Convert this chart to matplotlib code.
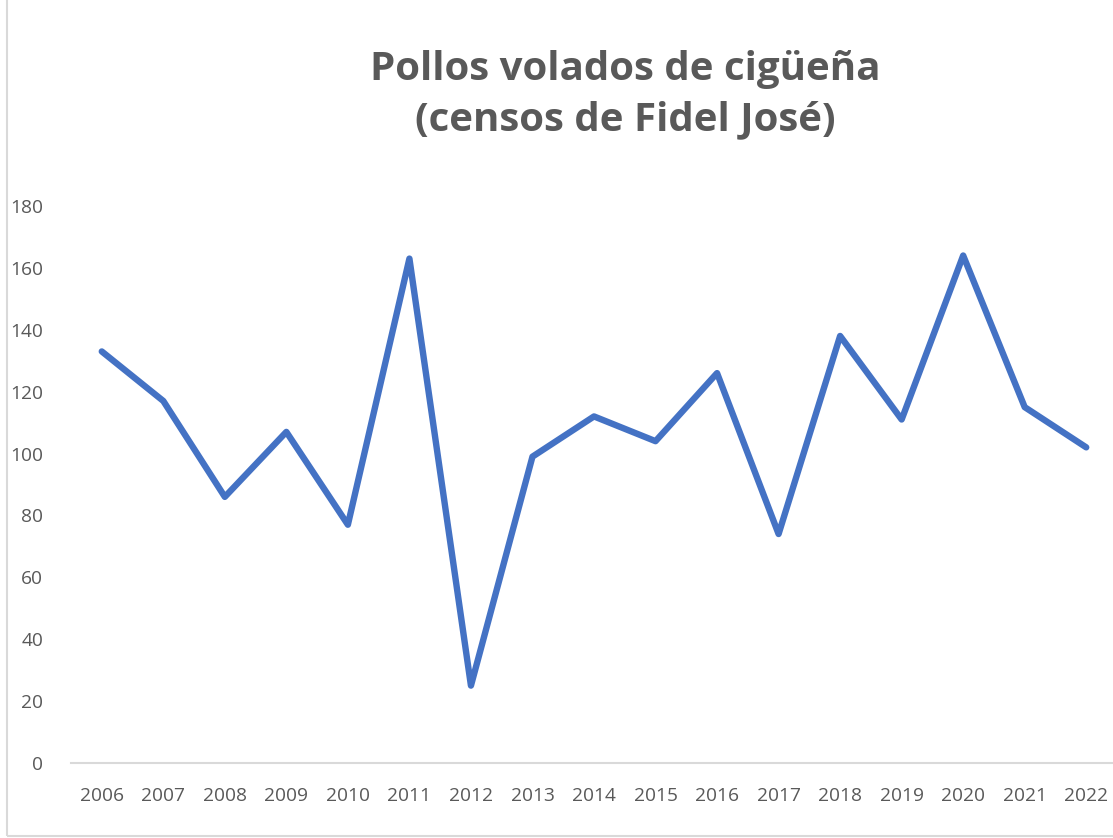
import numpy as np
import matplotlib.pyplot as plt
from matplotlib.patches import Rectangle

plt.rcParams['font.family'] = ['Open Sans', 'DejaVu Sans']

years = [str(y) for y in range(2006, 2023)]
pollos = [133, 117, 86, 107, 77, 163, 25, 99, 112, 104, 126, 74, 138, 111, 164, 115, 102]

W, H = 1113, 838
fig = plt.figure(figsize=(W / 100, H / 100), dpi=100)
# eje: 0 en y=763 px, 180 en y=206 px; categorías 2006..2022 en x=102..1086 px
ax = fig.add_axes([71 / W, (H - 763) / H, (1117 - 71) / W, (763 - 206) / H])

x = np.arange(len(years))
ax.plot(x, pollos, color='#4472C4', lw=4.6, solid_capstyle='round', solid_joinstyle='round')

ax.set_xlim(-0.5, len(years) - 0.5)
ax.set_ylim(0, 180)
ax.set_yticks(range(0, 181, 20))
ax.set_xticks(x)
ax.set_xticklabels(years)

for s in ['top', 'right', 'left']:
    ax.spines[s].set_visible(False)
ax.spines['bottom'].set_color('#D9D9D9')
ax.spines['bottom'].set_linewidth(1.5)
ax.tick_params(length=0, labelsize=13.8, labelcolor='#595959')
ax.tick_params(axis='y', pad=20)
ax.tick_params(axis='x', pad=17)

fig.text(625 / W, 1 - 95 / H, 'Pollos volados de cigüeña\n(censos de Fidel José)',
         ha='center', va='center', fontsize=29, fontweight='bold', color='#595959',
         linespacing=1.38)

# marco del gráfico (cortado arriba y a la derecha)
fig.patches.append(Rectangle((7 / W, 2 / H), 1.2, 1.2, transform=fig.transFigure,
                             fill=False, edgecolor='#D9D9D9', lw=1.5))

fig.savefig('out.png', dpi=100)
